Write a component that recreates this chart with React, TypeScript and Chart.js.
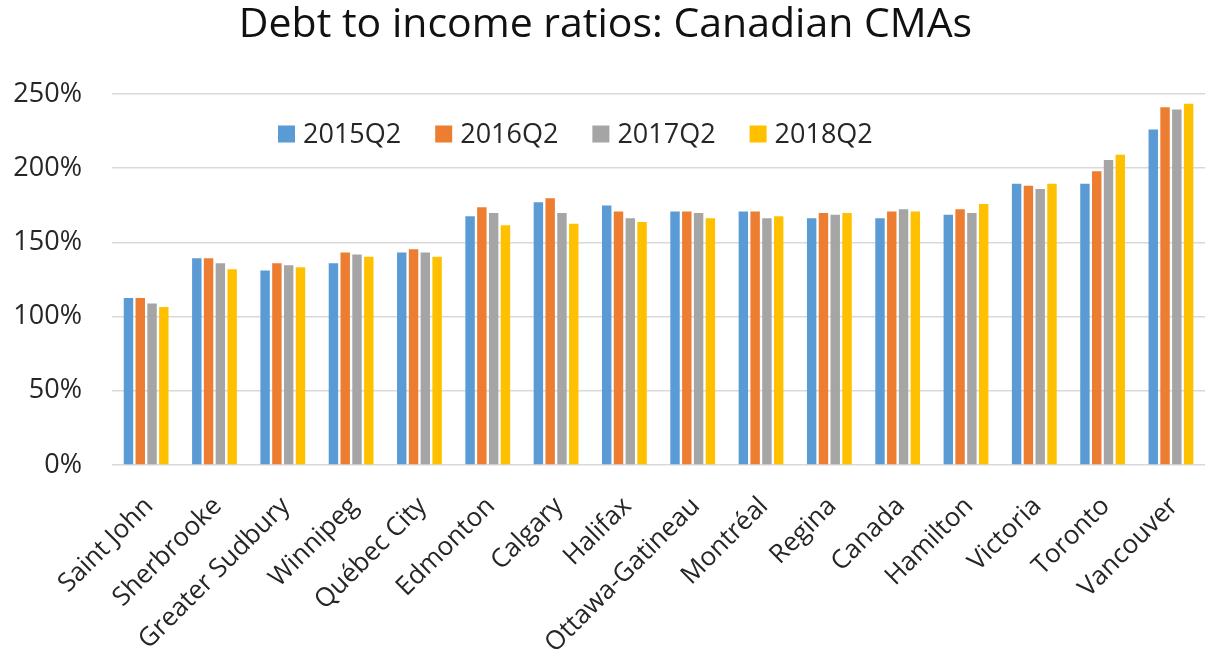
import React, { useEffect, useRef } from "react";
import { Chart, registerables } from "chart.js";

Chart.register(...registerables);

const TITLE = "Debt to income ratios: Canadian CMAs";
const categories = [
  "Saint John", "Sherbrooke", "Greater Sudbury", "Winnipeg", "Québec City",
  "Edmonton", "Calgary", "Halifax", "Ottawa-Gatineau", "Montréal",
  "Regina", "Canada", "Hamilton", "Victoria", "Toronto", "Vancouver",
];
const seriesNames = ["2015Q2", "2016Q2", "2017Q2", "2018Q2"];
const s2015 = [112.5, 139.4, 131, 136, 143.2, 167.6, 177, 174.8, 170.9, 170.9, 166.2, 166.2, 168.7, 189.5, 189.5, 226];
const s2016 = [112.5, 139.4, 136, 143.2, 145.4, 173.7, 179.8, 170.9, 170.9, 170.9, 169.8, 170.9, 172.3, 188.1, 198, 241];
const s2017 = [108.9, 136, 134.6, 141.8, 143.2, 169.8, 169.8, 166.2, 169.8, 166.2, 168.7, 172.3, 169.8, 185.9, 205.5, 239.6];
const s2018 = [106.4, 131.9, 133.3, 140.4, 140.4, 161.5, 162.6, 163.8, 166.2, 167.6, 169.8, 170.9, 175.9, 189.5, 209.1, 243.4];
const colors = ["#5B9BD5", "#ED7D31", "#A5A5A5", "#FFC000"];
const yTicks = [0, 50, 100, 150, 200, 250];

const FONT = "'Open Sans', 'DejaVu Sans', sans-serif";

const legendPlugin = {
  id: "insideLegend",
  afterDraw(chart: any) {
    const ctx = chart.ctx;
    const area = chart.chartArea;
    ctx.save();
    ctx.font = `27px ${FONT}`;
    ctx.textBaseline = "middle";
    ctx.textAlign = "left";
    let x = area.left + 166;
    const y = area.top + 40;
    const box = 17;
    chart.data.datasets.forEach((ds: any) => {
      ctx.fillStyle = ds.backgroundColor;
      ctx.fillRect(x, y - box / 2, box, box);
      ctx.fillStyle = "#262626";
      ctx.fillText(ds.label, x + box + 8, y + 1);
      x += box + 8 + ctx.measureText(ds.label).width + 34;
    });
    ctx.restore();
  },
};

export default function App() {
  const ref = useRef<HTMLCanvasElement | null>(null);
  useEffect(() => {
    if (!ref.current) return;
    const all = [s2015, s2016, s2017, s2018];
    const chart = new Chart(ref.current, {
      type: "bar",
      data: {
        labels: categories,
        datasets: seriesNames.map((n, i) => ({
          label: n,
          data: all[i],
          backgroundColor: colors[i],
          borderWidth: 0,
          categoryPercentage: 0.69,
          barPercentage: 0.8,
        })),
      },
      options: {
        animation: false,
        responsive: false,
        layout: { padding: 0 },
        plugins: {
          legend: { display: false },
          tooltip: { enabled: false },
          title: {
            display: true,
            text: TITLE,
            color: "#111111",
            font: { family: FONT, size: 41, weight: "normal" },
            padding: { top: 1, bottom: 43.8 },
          },
        },
        scales: {
          x: {
            grid: { display: false },
            border: { display: false },
            ticks: {
              autoSkip: false,
              maxRotation: 45,
              minRotation: 45,
              color: "#262626",
              font: { family: FONT, size: 26 },
              padding: 18,
              labelOffset: 3,
            },
            afterFit(scale: any) {
              scale.height = 184;
            },
          },
          y: {
            min: 0,
            max: 250,
            afterBuildTicks(scale: any) {
              scale.ticks = yTicks.map((v) => ({ value: v }));
            },
            grid: { color: "#D9D9D9", lineWidth: 1.5, drawTicks: false },
            border: { display: false },
            ticks: {
              color: "#262626",
              font: { family: FONT, size: 27 },
              padding: 30,
              callback: (v: any) => `${v}%`,
            },
            afterFit(scale: any) {
              scale.width = 112;
            },
          },
        },
      },
      plugins: [legendPlugin],
    });
    return () => chart.destroy();
  }, []);
  return (
    <div style={{ position: "fixed", left: 0, top: 0, width: 1211, height: 649, background: "#fff" }}>
      <canvas ref={ref} width={1211} height={649} style={{ display: "block" }} />
    </div>
  );
}
